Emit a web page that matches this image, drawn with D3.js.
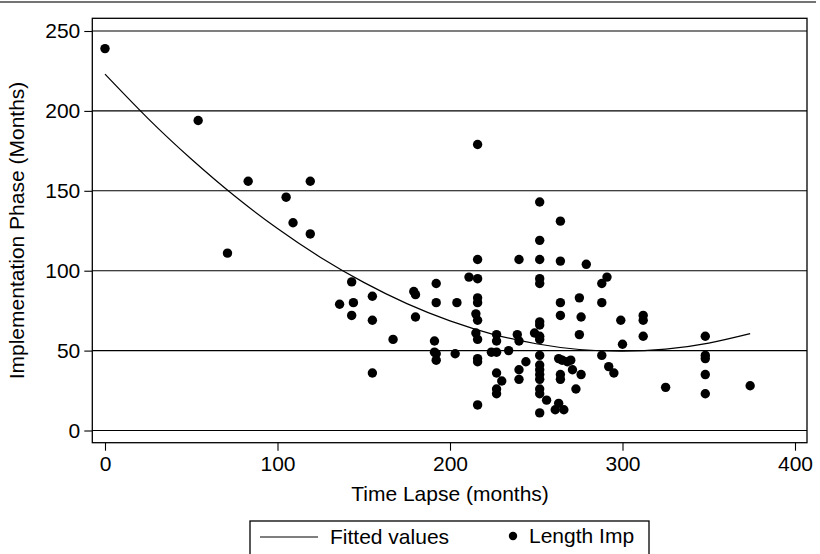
<!DOCTYPE html>
<html>
<head>
<meta charset="utf-8">
<script src="https://cdn.jsdelivr.net/npm/d3@7"></script>
<style>
  body { margin: 0; background: #fff; }
  svg { display: block; }
  text { font-family: "Liberation Sans", Arial, sans-serif; fill: #000; }
</style>
</head>
<body>
<svg id="chart" width="820" height="554"></svg>
<script>
// ---- data ----
const timeLapse = [0,54,83,71,105,109,119,119,143,136,144,143,155,155,155,167,179,180,180,192,192,204,191,191,192,192,203,
  216,216,211,216,216,216,215,216,215,216,216,216,216,
  227,227,224,227,234,227,230,227,227,
  240,239,240,244,240,240,
  252,252,252,252,252,252,252,249,252,252,252,252,252,252,252,252,252,252,256,
  264,264,264,264,263,265,268,264,264,263,261,266,
  271,276,273,270,279,275,276,275,
  288,291,288,288,292,295,299,300,312,312,312,325,348,348,348,348,348,374];
const lengthImp = [239,194,156,111,146,130,156,123,93,79,80,72,84,69,36,57,87,85,71,92,80,80,56,49,48,44,48,
  179,107,96,95,83,80,73,69,61,57,45,43,16,
  60,56,49,49,50,36,31,26,23,
  107,60,56,43,38,32,
  143,119,107,95,92,68,66,61,59,57,47,41,38,35,32,26,23,11,19,
  131,106,80,72,45,44,43,35,32,17,13,13,
  38,35,26,44,104,83,71,60,
  92,96,80,47,40,36,69,54,72,69,59,27,59,47,45,35,23,28];
const fitX = [0,25,50,75,100,125,150,175,200,225,250,275,300,325,350,374];
const fitY = [223,195.2,169.9,146.9,126.4,108.3,92.7,79.4,68.6,60.2,54.3,50.7,49.6,50.9,54.7,60.6];
const xTicks = [0,100,200,300,400];
const yTicks = [0,50,100,150,200,250];

const FONT = "Liberation Sans";
const FS = 21;
const svg = d3.select("#chart");
const plot = { left: 92.3, right: 807, top: 18.3, bottom: 442.7 };
const x = d3.scaleLinear().domain([0,400]).range([105,795]);
const y = d3.scaleLinear().domain([0,250]).range([430.5,31]);

// outer top border
svg.append("line").attr("x1",0).attr("x2",816).attr("y1",2).attr("y2",2)
  .attr("stroke","#444").attr("stroke-width",1.6);

// gridlines
svg.append("g").selectAll("line").data(yTicks).join("line")
  .attr("x1",plot.left).attr("x2",plot.right)
  .attr("y1",d=>y(d)).attr("y2",d=>y(d))
  .attr("stroke","#000").attr("stroke-width",1.1);

// frame
svg.append("rect").attr("x",plot.left).attr("y",plot.top)
  .attr("width",plot.right-plot.left).attr("height",plot.bottom-plot.top)
  .attr("fill","none").attr("stroke","#000").attr("stroke-width",1.3);

// y axis
const yAxis = d3.axisLeft(y).tickValues(yTicks).tickSize(8).tickPadding(4);
const gy = svg.append("g").attr("transform",`translate(${plot.left},0)`).call(yAxis);
gy.select(".domain").remove();
gy.selectAll(".tick line").attr("stroke","#000").attr("stroke-width",1.1);
gy.selectAll(".tick text").attr("font-size",FS).attr("font-family",FONT).attr("fill","#000");

// x axis
const xAxis = d3.axisBottom(x).tickValues(xTicks).tickSize(8).tickPadding(5);
const gx = svg.append("g").attr("transform",`translate(0,${plot.bottom})`).call(xAxis);
gx.select(".domain").remove();
gx.selectAll(".tick line").attr("stroke","#000").attr("stroke-width",1.1);
gx.selectAll(".tick text").attr("font-size",FS).attr("font-family",FONT).attr("fill","#000");

// axis titles
svg.append("text").attr("x",450).attr("y",501).attr("text-anchor","middle")
  .attr("font-size",FS).text("Time Lapse (months)");
svg.append("text").attr("transform",`translate(24,${(plot.top+plot.bottom)/2}) rotate(-90)`)
  .attr("text-anchor","middle").attr("font-size",FS).text("Implementation Phase (Months)");

// fitted line
const pts = fitX.map((v,i)=>[v,fitY[i]]);
svg.append("path").datum(pts)
  .attr("d", d3.line().x(d=>x(d[0])).y(d=>y(d[1])).curve(d3.curveNatural))
  .attr("fill","none").attr("stroke","#000").attr("stroke-width",1.2);

// scatter
svg.append("g").selectAll("circle").data(timeLapse.map((v,i)=>[v,lengthImp[i]])).join("circle")
  .attr("cx",d=>x(d[0])).attr("cy",d=>y(d[1])).attr("r",4.7).attr("fill","#000");

// legend
const lg = svg.append("g");
lg.append("rect").attr("x",250).attr("y",521).attr("width",399).attr("height",34)
  .attr("fill","#fff").attr("stroke","#000").attr("stroke-width",1.3);
lg.append("line").attr("x1",260).attr("x2",318).attr("y1",537).attr("y2",537)
  .attr("stroke","#000").attr("stroke-width",1.2);
lg.append("text").attr("x",330).attr("y",544).attr("font-size",FS).text("Fitted values");
lg.append("circle").attr("cx",513).attr("cy",536).attr("r",4.2).attr("fill","#000");
lg.append("text").attr("x",529).attr("y",543).attr("font-size",FS).text("Length Imp");
</script>
</body>
</html>
